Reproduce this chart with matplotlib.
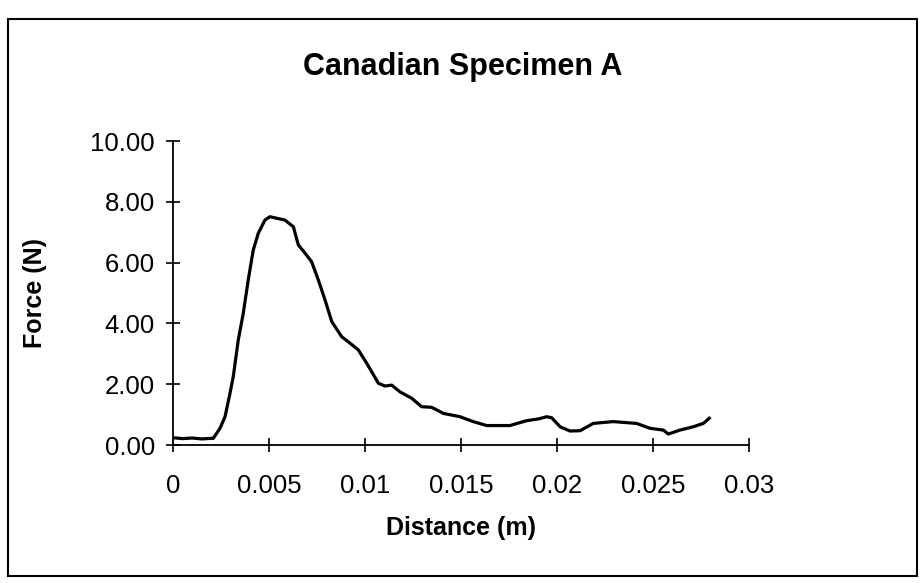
import matplotlib
matplotlib.use("Agg")
import matplotlib.pyplot as plt
from matplotlib.patches import Rectangle

plt.rcParams["font.family"] = ["Liberation Sans", "DejaVu Sans"]

# Distance (m) and force (N)
distance = [0.0, 0.0005, 0.001, 0.0015, 0.00202, 0.0021, 0.00245, 0.00271,
            0.00297, 0.00314, 0.0034, 0.00366, 0.00392, 0.00418, 0.00444,
            0.00479, 0.00505, 0.0054, 0.00583, 0.00627, 0.00653, 0.00688,
            0.00722, 0.00757, 0.00792, 0.00827, 0.00879, 0.00922, 0.00965,
            0.01009, 0.0107, 0.01104, 0.01139, 0.01182, 0.01243, 0.01295,
            0.01347, 0.01408, 0.01495, 0.01564, 0.01634, 0.01755, 0.01842,
            0.01905, 0.01946, 0.01972, 0.02016, 0.02068, 0.0212, 0.02189,
            0.02293, 0.02415, 0.02484, 0.02554, 0.0258, 0.0264, 0.0271,
            0.02762, 0.02793]
force = [0.24, 0.21, 0.23, 0.20, 0.22, 0.22, 0.55, 0.93,
         1.70, 2.25, 3.45, 4.33, 5.43, 6.41, 6.96,
         7.40, 7.51, 7.46, 7.40, 7.18, 6.58, 6.31,
         6.03, 5.43, 4.77, 4.06, 3.56, 3.35, 3.13,
         2.69, 2.03, 1.94, 1.97, 1.75, 1.54, 1.26,
         1.24, 1.04, 0.93, 0.77, 0.64, 0.64, 0.80,
         0.86, 0.93, 0.90, 0.60, 0.46, 0.47, 0.71,
         0.77, 0.71, 0.55, 0.49, 0.36, 0.49, 0.60,
         0.71, 0.88]

x_ticks = [0, 0.005, 0.01, 0.015, 0.02, 0.025, 0.03]
x_tick_labels = ["0", "0.005", "0.01", "0.015", "0.02", "0.025", "0.03"]
y_ticks = [0, 2, 4, 6, 8, 10]
y_tick_labels = ["0.00", "2.00", "4.00", "6.00", "8.00", "10.00"]

fig = plt.figure(figsize=(9.24, 5.83), dpi=100)
ax = fig.add_axes([0.1872, 0.2367, 0.6234, 0.5214])

ax.plot(distance, force, color="black", linewidth=2.3)

ax.set_xlim(0, 0.03)
ax.set_ylim(0, 10)
ax.set_xticks(x_ticks)
ax.set_xticklabels(x_tick_labels)
ax.set_yticks(y_ticks)
ax.set_yticklabels(y_tick_labels)
ax.tick_params(direction="inout", length=10, width=1.2, labelsize=18.5)
ax.tick_params(axis="x", pad=16)
ax.tick_params(axis="y", pad=8)

for side in ["top", "right"]:
    ax.spines[side].set_visible(False)
for side in ["left", "bottom"]:
    ax.spines[side].set_linewidth(1.3)

ax.set_xlabel("Distance (m)", fontsize=18, fontweight="bold")
ax.set_ylabel("Force (N)", fontsize=18, fontweight="bold")
ax.xaxis.label.set_va("center")
ax.yaxis.label.set_va("center")
ax.xaxis.set_label_coords(0.5, -0.273)
ax.yaxis.set_label_coords(-0.24, 0.5)

fig.text(0.501, 0.885, "Canadian Specimen A", ha="center", va="center",
         fontsize=22, fontweight="bold")

# outer chart frame
fig.patches.append(Rectangle((0.0087, 0.012), 0.9838, 0.9554, transform=fig.transFigure,
                             fill=False, edgecolor="black", linewidth=1.5))

fig.savefig("out.png", dpi=100)
